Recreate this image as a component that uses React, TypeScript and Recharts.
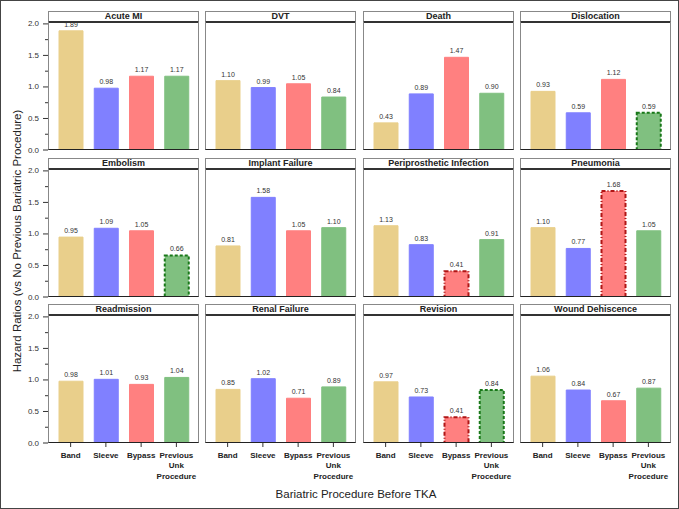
import React from 'react';
import { BarChart, Bar, XAxis, YAxis, Cell } from 'recharts';

// ---------- data ----------
const panels = [
  'Acute MI', 'DVT', 'Death', 'Dislocation',
  'Embolism', 'Implant Failure', 'Periprosthetic Infection', 'Pneumonia',
  'Readmission', 'Renal Failure', 'Revision', 'Wound Dehiscence',
];
const categories = ['Band', 'Sleeve', 'Bypass', 'Previous Unk Procedure'];
const bandHR = [1.89, 1.10, 0.43, 0.93, 0.95, 0.81, 1.13, 1.10, 0.98, 0.85, 0.97, 1.06];
const sleeveHR = [0.98, 0.99, 0.89, 0.59, 1.09, 1.58, 0.83, 0.77, 1.01, 1.02, 0.73, 0.84];
const bypassHR = [1.17, 1.05, 1.47, 1.12, 1.05, 1.05, 0.41, 1.68, 0.93, 0.71, 0.41, 0.67];
const prevHR = [1.17, 0.84, 0.90, 0.59, 0.66, 1.10, 0.91, 1.05, 1.04, 0.89, 0.84, 0.87];
const significant: [string, string][] = [
  ['Dislocation', 'Previous Unk Procedure'],
  ['Embolism', 'Previous Unk Procedure'],
  ['Periprosthetic Infection', 'Bypass'],
  ['Pneumonia', 'Bypass'],
  ['Revision', 'Bypass'],
  ['Revision', 'Previous Unk Procedure'],
];
const yTicks = [0, 0.25, 0.5, 0.75, 1.0, 1.25, 1.5, 1.75, 2.0];
const yTitle = 'Hazard Ratios (vs No Previous Bariatric Procedure)';
const xTitle = 'Bariatric Procedure Before TKA';

// ---------- styles ----------
const FONT = 'Arial, "Liberation Sans", Helvetica, sans-serif';
const fills = ['#E9CF8B', '#8080FF', '#FF8080', '#80C080'];
const sigStroke = ['#8a6d1a', '#2020a0', '#B01515', '#187818'];
const sigDash = ['3 2', '3 2', '4 2 1 2', '3 2'];
const COL_X = [47, 204, 362, 519];
const ROW_Y = [9.5, 156.5, 302.5];
const PANEL_W = 151;
const TITLE_H = 11.5;
const PLOT_H = 128;
const Y_AXIS_W = 34;
const X_AXIS_H = 46;
const PAD = 6;

const series = [bandHR, sleeveHR, bypassHR, prevHR];

const YTick = (props: any) => {
  const { x, y, payload } = props;
  const v = payload.value;
  const major = Math.abs(v * 2 - Math.round(v * 2)) < 1e-6;
  return (
    <g>
      <line x1={x} x2={x - (major ? 5 : 3)} y1={y} y2={y} stroke="#333" strokeWidth={1} />
      {major && (
        <text x={x - 9} y={y} textAnchor="end" dominantBaseline="central" fontSize={8} fill="#333" style={{ fill: '#333' }} fontFamily={FONT}>
          {v.toFixed(1)}
        </text>
      )}
    </g>
  );
};

const XTick = (props: any) => {
  const { x, y, payload } = props;
  const words = String(payload.value).split(' ');
  return (
    <g>
      {words.map((w, i) => (
        <text key={i} x={x} y={y + 9 + i * 10.3} textAnchor="middle" fontSize={8} fontWeight="bold" fill="#222" style={{ fill: '#222' }} fontFamily={FONT}>
          {w}
        </text>
      ))}
    </g>
  );
};

const renderValueLabel = (props: any) => {
  const { x, y, width, value, index } = props;
  return (
    <text
      key={`lbl-${index}`}
      x={Number(x) + Number(width) / 2}
      y={Number(y) - 4}
      textAnchor="middle"
      fontSize={7}
      fill="#333"
      stroke="none"
      style={{ fill: '#333', stroke: 'none' }}
      fontFamily={FONT}
    >
      {Number(value).toFixed(2)}
    </text>
  );
};

const Panel = ({ idx }: { idx: number }) => {
  const r = Math.floor(idx / 4);
  const c = idx % 4;
  const name = panels[idx];
  const data = categories.map((cat, k) => ({
    cat,
    value: series[k][idx],
    sig: significant.some(([p, q]) => p === name && q === cat),
  }));
  const showY = c === 0;
  const showX = r === 2;
  const left = COL_X[c] - (showY ? Y_AXIS_W : 0);
  const top = ROW_Y[r] + TITLE_H;
  return (
    <>
      <div style={{ position: 'absolute', left, top: top - PAD }}>
        <BarChart
          width={PANEL_W + (showY ? Y_AXIS_W : 0)}
          height={PLOT_H + PAD + (showX ? X_AXIS_H : PAD)}
          data={data}
          margin={{ top: PAD, right: 0, bottom: showX ? 0 : PAD, left: 0 }}
        >
          <XAxis
            dataKey="cat"
            hide={!showX}
            height={X_AXIS_H}
            padding={{ left: 5, right: 5 }}
            axisLine={false}
            tickLine={{ stroke: '#333' }}
            tickSize={4}
            tickMargin={2}
            interval={0}
            tick={<XTick />}
          />
          <YAxis
            hide={!showY}
            width={Y_AXIS_W}
            domain={[0, 2.03]}
            ticks={yTicks}
            interval={0}
            allowDataOverflow
            axisLine={false}
            tickLine={false}
            tickSize={0}
            tickMargin={0}
            tick={<YTick />}
          />
          <Bar dataKey="value" barSize={24} isAnimationActive={false} label={renderValueLabel}>
            {data.map((d, k) => (
              <Cell
                key={k}
                fill={fills[k]}
                stroke={d.sig ? sigStroke[k] : fills[k]}
                strokeWidth={d.sig ? 2 : 1}
                strokeDasharray={d.sig ? sigDash[k] : undefined}
              />
            ))}
          </Bar>
        </BarChart>
      </div>
      <div
        style={{
          position: 'absolute', left: COL_X[c], top: ROW_Y[r], width: PANEL_W, height: TITLE_H + 1,
          boxSizing: 'border-box', border: '1px solid #888', borderBottom: '2px solid #333',
          fontFamily: FONT, fontSize: 9, fontWeight: 'bold', color: '#222', textAlign: 'center',
          lineHeight: `${TITLE_H - 2}px`, whiteSpace: 'nowrap', overflow: 'hidden', background: '#fff',
        }}
      >
        {name}
      </div>
      <div
        style={{
          position: 'absolute', left: COL_X[c], top, width: PANEL_W, height: PLOT_H,
          boxSizing: 'border-box', border: '1px solid #888', borderTop: 'none', borderBottom: '1px solid #222',
          pointerEvents: 'none',
        }}
      />
    </>
  );
};

export default function App() {
  return (
    <div
      style={{
        position: 'absolute', left: 0, top: 0, width: 679, height: 509, boxSizing: 'border-box',
        border: '1px solid #444', background: '#fff', overflow: 'hidden',
      }}
    >
      {panels.map((_, i) => (
        <Panel key={i} idx={i} />
      ))}
      <svg width={679} height={509} style={{ position: 'absolute', left: -1, top: -1, pointerEvents: 'none' }}>
        <text
          transform="translate(17, 241) rotate(-90)"
          textAnchor="middle"
          dominantBaseline="central"
          fontSize={11.5}
          fill="#222"
          fontFamily={FONT}
        >
          {yTitle}
        </text>
        <text x={356} y={498} textAnchor="middle" fontSize={11.5} fill="#222" fontFamily={FONT}>
          {xTitle}
        </text>
      </svg>
    </div>
  );
}
